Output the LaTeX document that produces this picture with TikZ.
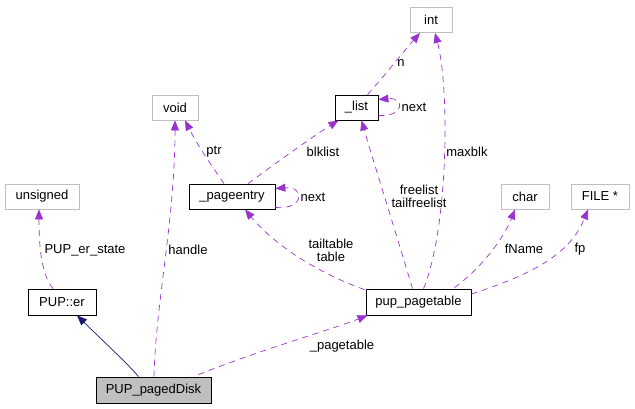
\documentclass[tikz,border=0pt]{standalone}
\usepackage{fontspec}
\setmainfont{Liberation Sans}
\usetikzlibrary{arrows.meta}
\definecolor{dep}{HTML}{9A32CD}
\definecolor{inh}{HTML}{191970}
\definecolor{graybd}{HTML}{BFBFBF}
\tikzset{
  cls/.style={draw=black, line width=0.8pt, inner sep=0pt, minimum height=25pt, font=\fontsize{13}{13}\selectfont},
  ext/.style={draw=graybd, line width=0.8pt, inner sep=0pt, minimum height=25pt, font=\fontsize{13}{13}\selectfont},
  usage/.style={draw=dep, line width=0.7pt, dash pattern=on 6pt off 5pt, -{Triangle[length=10pt,width=8pt,fill=dep]}},
  inherit/.style={draw=inh, line width=0.7pt, -{Triangle[length=10pt,width=8pt,fill=inh]}},
  lbl/.style={inner sep=0pt, align=center, font=\fontsize{13}{13}\selectfont}
}
\begin{document}
\begin{tikzpicture}[x=1pt,y=-1pt]
\useasboundingbox (0,0) rectangle (635,408);
% nodes
\node[ext, minimum width=42pt] (int) at (431,20) {int};
\node[ext, minimum width=46pt] (void) at (175,107.5) {void};
\node[cls, minimum width=43pt] (list) at (356.5,107.5) {\_list};
\node[ext, minimum width=74pt] (un) at (42,196.5) {unsigned};
\node[cls, minimum width=86pt] (pe) at (232,196.5) {\_pageentry};
\node[ext, minimum width=48pt] (ch) at (525,196.5) {char};
\node[ext, minimum width=58pt] (fi) at (600,196.5) {FILE *};
\node[cls, minimum width=68pt, minimum height=26pt] (er) at (62,302) {PUP::er};
\node[cls, minimum width=105pt, minimum height=26pt] (pt) at (418.5,302) {pup\_pagetable};
\node[cls, minimum width=115pt, minimum height=26pt, fill=graybd] (pd) at (153.5,390) {PUP\_pagedDisk};
% inheritance
\draw[inherit] ([xshift=-15pt]pd.north) .. controls (130,366) and (100,338) .. ([xshift=15pt]er.south);
% usage edges
\draw[usage] ([xshift=-9pt]er.north) .. controls (42,275) and (39,250) .. ([xshift=-3pt]un.south);
\draw[usage] ([xshift=0.5pt]pd.north) .. controls (156,300) and (175,220) .. (void.south);
\draw[usage] ([xshift=45pt,yshift=2pt]pd.north) .. controls (260,350) and (330,330) .. ([xshift=-51pt]pt.south);
\draw[usage] ([xshift=-8pt]pe.north) .. controls (215,170) and (200,150) .. ([xshift=10pt]void.south);
\draw[usage] ([xshift=16pt]pe.north) .. controls (280,160) and (315,135) .. ([xshift=-18pt]list.south);
\draw[usage] ([yshift=-11pt]pe.east) .. controls (305,210) and (305,186) .. ([yshift=8pt]pe.east);
\draw[usage] ([yshift=-8pt]list.east) .. controls (405,117) and (405,97) .. ([yshift=8pt]list.east);
\draw[usage] ([xshift=11pt]list.north) .. controls (385,75) and (405,50) .. ([xshift=-11pt]int.south);
\draw[usage] ([xshift=5pt]pt.north) .. controls (448,230) and (450,90) .. ([xshift=4pt]int.south);
\draw[usage] ([xshift=-6pt]pt.north) .. controls (395,230) and (370,150) .. ([xshift=5pt]list.south);
\draw[usage] ([xshift=-54pt,yshift=-1pt]pt.north) .. controls (310,270) and (270,240) .. ([xshift=13pt]pe.south);
\draw[usage] ([xshift=36pt,yshift=1pt]pt.north) .. controls (485,265) and (505,235) .. ([xshift=-10pt]ch.south);
\draw[usage] ([yshift=8pt]pt.east) .. controls (530,275) and (570,255) .. ([xshift=-12pt]fi.south);
% labels
\node[lbl] (l1) at (85,250) {PUP\_er\_state};
\node[lbl] (l2) at (188,250) {handle};
\node[lbl] (l3) at (342,346) {\_pagetable};
\node[lbl] (l4) at (214,152) {ptr};
\node[lbl] (l5) at (323,152) {blklist};
\node[lbl] (l6) at (313,197) {next};
\node[lbl] (l7) at (414,107) {next};
\node[lbl] (l8) at (401,63) {n};
\node[lbl] (l9) at (467,152) {maxblk};
\node[lbl] (l10) at (419,196) {freelist\\tailfreelist};
\node[lbl] (l11) at (331,250) {tailtable\\table};
\node[lbl] (l12) at (524,249) {fName};
\node[lbl] (l13) at (580,249) {fp};
\end{tikzpicture}
\end{document}
